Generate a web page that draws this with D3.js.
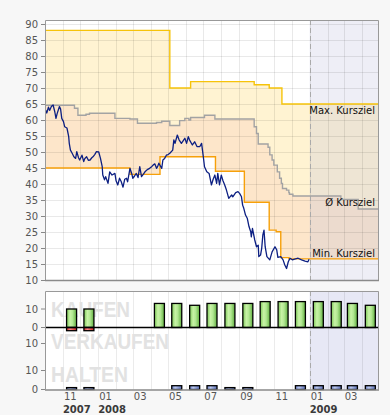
<!DOCTYPE html>
<html><head><meta charset="utf-8">
<script src="https://cdn.jsdelivr.net/npm/d3@7"></script>
<style>body{margin:0;background:#f7f7f7;} svg{display:block;font-family:"DejaVu Sans",Verdana,sans-serif;}</style>
</head><body><svg id="c" width="390" height="415"></svg>
<script>
const priceDates = ["2007-10-02","2007-10-04","2007-10-07","2007-10-09","2007-10-12","2007-10-15","2007-10-18","2007-10-20","2007-10-22","2007-10-26","2007-10-28","2007-10-30","2007-11-02","2007-11-04","2007-11-08","2007-11-11","2007-11-12","2007-11-14","2007-11-17","2007-11-20","2007-11-23","2007-11-25","2007-11-28","2007-11-30","2007-12-04","2007-12-07","2007-12-09","2007-12-12","2007-12-15","2007-12-18","2007-12-21","2007-12-23","2007-12-26","2007-12-29","2008-01-02","2008-01-05","2008-01-08","2008-01-09","2008-01-12","2008-01-14","2008-01-18","2008-01-21","2008-01-25","2008-01-30","2008-02-01","2008-02-04","2008-02-07","2008-02-10","2008-02-13","2008-02-16","2008-02-19","2008-02-21","2008-02-25","2008-02-28","2008-03-01","2008-03-04","2008-03-07","2008-03-10","2008-03-13","2008-03-16","2008-03-19","2008-03-22","2008-03-26","2008-03-30","2008-04-03","2008-04-05","2008-04-08","2008-04-11","2008-04-13","2008-04-15","2008-04-20","2008-04-22","2008-04-25","2008-04-28","2008-05-01","2008-05-04","2008-05-09","2008-05-11","2008-05-13","2008-05-17","2008-05-20","2008-05-24","2008-05-27","2008-05-30","2008-06-02","2008-06-05","2008-06-07","2008-06-12","2008-06-16","2008-06-20","2008-06-25","2008-06-28","2008-07-01","2008-07-03","2008-07-07","2008-07-11","2008-07-15","2008-07-18","2008-07-21","2008-07-24","2008-07-26","2008-07-29","2008-08-01","2008-08-04","2008-08-07","2008-08-10","2008-08-14","2008-08-19","2008-08-21","2008-08-26","2008-08-30","2008-09-02","2008-09-05","2008-09-07","2008-09-09","2008-09-12","2008-09-15","2008-09-18","2008-09-21","2008-09-22","2008-09-24","2008-09-28","2008-10-01","2008-10-04","2008-10-05","2008-10-08","2008-10-10","2008-10-12","2008-10-14","2008-10-16","2008-10-19","2008-10-24","2008-10-28","2008-11-02","2008-11-05","2008-11-07","2008-11-12","2008-11-16","2008-11-19","2008-11-22","2008-11-25","2008-11-28","2008-12-02","2008-12-06","2008-12-12","2008-12-18","2008-12-24","2008-12-29","2008-12-31"];
const priceValues = [63.1,62.2,64.0,63.0,64.2,64.7,62.5,60.5,62.0,64.2,63.4,60.5,59.5,57.9,57.5,54.8,52.7,50.6,49.6,48.5,48.0,50.1,48.2,47.5,49.0,47.0,48.0,48.5,47.4,47.5,48.2,48.5,49.2,50.1,50.0,48.0,45.4,42.8,41.3,42.3,40.2,43.8,42.8,43.3,41.0,39.7,41.8,40.7,39.0,41.5,41.8,40.7,44.9,43.3,41.8,42.5,43.3,42.0,45.4,42.3,43.0,43.8,44.5,44.9,45.5,45.9,46.3,44.9,45.5,46.5,44.9,47.5,48.0,49.0,49.2,49.6,50.6,53.8,52.7,55.3,53.8,52.7,53.5,54.3,52.7,54.8,53.8,52.2,53.2,51.7,51.7,52.7,48.5,45.4,43.8,43.3,39.7,41.5,42.8,40.2,43.3,39.7,42.8,41.0,39.7,38.1,35.5,36.6,36.0,37.3,37.6,37.0,36.0,33.4,32.4,30.3,29.3,26.7,25.1,23.5,26.1,22.5,20.4,20.9,17.3,17.8,19.9,24.1,25.6,20.4,17.3,16.3,18.8,20.4,19.4,17.1,17.3,16.3,14.7,13.6,15.7,16.8,16.3,16.5,16.8,16.3,15.9,15.7,16.5];

const maxDates = ["2007-10-01","2008-05-04","2008-06-09","2008-09-27","2008-10-23","2008-11-14"];
const maxValues = [88,70,72,71,70,65];
const avgDates = ["2007-10-01","2007-11-21","2007-11-27","2007-12-11","2007-12-17","2008-01-30","2008-02-25","2008-03-09","2008-04-11","2008-04-20","2008-05-04","2008-05-21","2008-05-30","2008-06-06","2008-06-09","2008-07-03","2008-07-21","2008-09-27","2008-10-01","2008-10-04","2008-10-21","2008-10-24","2008-10-28","2008-10-31","2008-11-06","2008-11-10","2008-11-13","2008-11-15","2008-11-22","2008-11-26","2008-11-27","2008-12-03","2009-02-24","2009-03-26"];
const avgValues = [64.6,63.65,61.5,61.8,62.1,60.5,60.3,59.0,59.2,59.6,58.3,59.8,60.5,60.0,60.8,61.5,60.3,57.9,55.8,52.5,51.5,49.1,47.5,45.9,43.8,41.8,40.2,38.6,38.1,37.3,36.8,36.25,35.2,32.2];
const minDates = ["2007-10-01","2008-02-25","2008-04-17","2008-07-22","2008-09-10","2008-10-23","2008-11-04","2008-11-12","2008-11-26"];
const minValues = [45,43,48.5,44,34.3,25.6,25.1,17,16.6];
const rangeStart = "2007-10-01", rangeEnd = "2009-05-01", todayDate = "2009-01-01";

const yTicks = [10,15,20,25,30,35,40,45,50,55,60,65,70,75,80,85,90];
const monthTickDates = ["2007-11-01","2008-01-01","2008-03-01","2008-05-01","2008-07-01","2008-09-01","2008-11-01","2009-01-01","2009-03-01"];
const monthTickLabels = ["11","01","03","05","07","09","11","01","03"];
const yearTickDates = ["2007-11-01","2008-01-01","2009-01-01"];
const yearTickLabels = ["2007","2008","2009"];

const ratingMonths = ["2007-11","2007-12","2008-01","2008-02","2008-03","2008-04","2008-05","2008-06","2008-07","2008-08","2008-09","2008-10","2008-11","2008-12","2009-01","2009-02","2009-03","2009-04"];
const kaufen    = [10,10,0,0,0,13,13,12,13,13,13,14,14,14,14,14,13,12];
const verkaufen = [2,2,0,0,0,0,0,0,0,0,0,0,0,0,0,0,0,0];
const halten    = [1,1,0,0,0,0,2,2,2,1,1,0,0,2,2,2,2,2];
const panelLabels = ["KAUFEN","VERKAUFEN","HALTEN"];

const P = d3.utcParse("%Y-%m-%d");
const PM = d3.utcParse("%Y-%m");
const svg = d3.select("#c");
const L = 45, R = 379, T = 20, B = 280;
const x = d3.scaleUtc().domain([P(rangeStart), P(rangeEnd)]).range([L, R]);
const y = d3.scaleLinear().domain([10, 91.25]).range([B, T]);
const xToday = x(P(todayDate));

const defs = svg.append("defs");
function grad(id, stops){
  const g = defs.append("linearGradient").attr("id", id).attr("x1","0").attr("x2","1").attr("y1","0").attr("y2","0");
  stops.forEach(s => g.append("stop").attr("offset", s[0]).attr("stop-color", s[1]));
}
grad("gG", [[0,"#7cc858"],[0.35,"#c8f3a6"],[0.6,"#b2e892"],[1,"#5fae3f"]]);
grad("gR", [[0,"#e03030"],[0.35,"#ff8a8a"],[1,"#d02020"]]);
grad("gB", [[0,"#6f83c8"],[0.35,"#bccaf2"],[1,"#5c70b8"]]);
defs.append("clipPath").attr("id","clipMain").append("rect").attr("x",L).attr("y",T).attr("width",R-L).attr("height",B-T);

// ---------- main plot ----------
svg.append("rect").attr("x",L).attr("y",T).attr("width",R-L).attr("height",B-T).attr("fill","#fff");
const gMain = svg.append("g").attr("clip-path","url(#clipMain)");

function stepVal(dates, vals, d){ let v = vals[0]; dates.forEach((s,i)=>{ if (P(s) <= d) v = vals[i]; }); return v; }
const breakSet = Array.from(new Set([...maxDates, ...avgDates, ...minDates, rangeEnd])).sort();
const bands = breakSet.map(s => { const d = P(s); return {date:d, max:stepVal(maxDates,maxValues,d), avg:stepVal(avgDates,avgValues,d), min:stepVal(minDates,minValues,d)}; });

gMain.append("path").datum(bands).attr("fill","#fff3d2")
  .attr("d", d3.area().x(d=>x(d.date)).y0(d=>y(d.avg)).y1(d=>y(d.max)).curve(d3.curveStepAfter));
gMain.append("path").datum(bands).attr("fill","#fde6ca")
  .attr("d", d3.area().x(d=>x(d.date)).y0(d=>y(d.min)).y1(d=>y(d.avg)).curve(d3.curveStepAfter));

// future overlay
gMain.append("rect").attr("x",xToday).attr("y",T).attr("width",R-xToday).attr("height",B-T).attr("fill","#bbbbdb").attr("opacity",0.25);

// grid
const months = d3.utcMonth.range(P(rangeStart), P(rangeEnd)).slice(1);
gMain.selectAll(".vg").data(months).enter().append("line")
  .attr("x1",d=>Math.round(x(d))+0.5).attr("x2",d=>Math.round(x(d))+0.5).attr("y1",T).attr("y2",B)
  .attr("stroke","rgba(0,0,0,0.085)");
gMain.selectAll(".hg").data(yTicks.slice(1)).enter().append("line")
  .attr("x1",L).attr("x2",R).attr("y1",d=>Math.round(y(d))+0.5).attr("y2",d=>Math.round(y(d))+0.5)
  .attr("stroke","rgba(0,0,0,0.085)");

// today dashed line
gMain.append("line").attr("x1",Math.round(xToday)+0.5).attr("x2",Math.round(xToday)+0.5).attr("y1",T).attr("y2",B)
  .attr("stroke","#aaa").attr("stroke-dasharray","5,3");

// target lines
function stepLine(dates, vals, color){
  const pts = dates.map((s,i)=>({date:P(s), v:vals[i]}));
  pts.push({date:P(rangeEnd), v:vals[vals.length-1]});
  gMain.append("path").datum(pts).attr("fill","none").attr("stroke",color).attr("stroke-width",1.4)
    .attr("d", d3.line().x(d=>x(d.date)).y(d=>y(d.v)).curve(d3.curveStepAfter));
}
stepLine(avgDates, avgValues, "#a3a3a3");
stepLine(maxDates, maxValues, "#f6c30a");
stepLine(minDates, minValues, "#f6a00a");

// price
const price = priceDates.map((s,i)=>({date:P(s), v:priceValues[i]}));
gMain.append("path").datum(price).attr("fill","none").attr("stroke","#0c1f82").attr("stroke-width",1.3)
  .attr("stroke-linejoin","round")
  .attr("d", d3.line().x(d=>x(d.date)).y(d=>y(d.v)));

// target labels
const lastMax = maxValues[maxValues.length-1], lastAvg = avgValues[avgValues.length-1], lastMin = minValues[minValues.length-1];
const lab = svg.append("g").attr("font-size",10).attr("fill","#111").attr("text-anchor","end");
lab.append("text").attr("x",375).attr("y",y(lastMax)+9.5).text("Max. Kursziel");
lab.append("text").attr("x",375).attr("y",y(lastAvg)-3).text("Ø Kursziel");
lab.append("text").attr("x",375).attr("y",y(lastMin)-1.5).text("Min. Kursziel");

// frame
svg.append("path").attr("d",`M${L+0.5},${B}V${T+0.5}H${R-0.5}V${B}`).attr("fill","none").attr("stroke","#999");
svg.append("line").attr("x1",L).attr("x2",R).attr("y1",B+0.5).attr("y2",B+0.5).attr("stroke","#8a8a8a").attr("stroke-width",1.5);

// y axis
const ya = svg.append("g").attr("transform",`translate(${L},0)`).call(d3.axisLeft(y).tickValues(yTicks).tickSize(4).tickPadding(3));
ya.select(".domain").remove();
ya.selectAll("line").attr("stroke","#888");
ya.selectAll("text").attr("font-size",10).attr("fill","#555").attr("font-family","DejaVu Sans");

// ---------- ratings panel ----------
const PT = 291, PB = 389.5, zeroY = 327.5;
const kS = d3.scaleLinear().domain([0,10]).range([zeroY, zeroY-18.5]);
const vS = d3.scaleLinear().domain([0,10]).range([zeroY, zeroY+16]);
const hS = d3.scaleLinear().domain([0,10]).range([PB, PB-19]);

svg.append("rect").attr("x",L).attr("y",PT).attr("width",R-L).attr("height",PB-PT).attr("fill","#fff");
svg.append("rect").attr("x",xToday).attr("y",PT).attr("width",R-xToday).attr("height",PB-PT).attr("fill","#e7e8f5");
svg.selectAll(".vg2").data(months).enter().append("line")
  .attr("x1",d=>Math.round(x(d))+0.5).attr("x2",d=>Math.round(x(d))+0.5).attr("y1",PT).attr("y2",PB)
  .attr("stroke","rgba(0,0,0,0.08)");
svg.append("line").attr("x1",Math.round(xToday)+0.5).attr("x2",Math.round(xToday)+0.5).attr("y1",PT).attr("y2",PB)
  .attr("stroke","#aaa").attr("stroke-dasharray","5,3");

// watermarks
const wm = svg.append("g").attr("fill","#e2e2e2").attr("font-family","Liberation Sans, Arial, sans-serif").attr("font-weight","bold").attr("font-size",22);
wm.append("text").attr("x",51).attr("y",316.5).attr("textLength",79).attr("lengthAdjust","spacingAndGlyphs").text(panelLabels[0]);
wm.append("text").attr("x",51).attr("y",349).attr("textLength",118).attr("lengthAdjust","spacingAndGlyphs").text(panelLabels[1]);
wm.append("text").attr("x",51).attr("y",382).attr("textLength",77).attr("lengthAdjust","spacingAndGlyphs").text(panelLabels[2]);

const rd = ratingMonths.map((m,i)=>({mid:d3.utcDay.offset(PM(m),15), k:kaufen[i], v:verkaufen[i], h:halten[i]}));
const bw = 10;
svg.selectAll(".kb").data(rd.filter(d=>d.k>0)).enter().append("rect")
  .attr("x",d=>x(d.mid)-bw/2).attr("width",bw).attr("y",d=>kS(d.k)).attr("height",d=>zeroY-kS(d.k))
  .attr("fill","url(#gG)").attr("stroke","#000").attr("stroke-width",1.3);
svg.selectAll(".vb").data(rd.filter(d=>d.v>0)).enter().append("rect")
  .attr("x",d=>x(d.mid)-bw/2).attr("width",bw).attr("y",zeroY).attr("height",d=>vS(d.v)-zeroY)
  .attr("fill","url(#gR)").attr("stroke","#000").attr("stroke-width",1.3);
svg.selectAll(".hb").data(rd.filter(d=>d.h>0)).enter().append("rect")
  .attr("x",d=>x(d.mid)-bw/2).attr("width",bw).attr("y",d=>hS(d.h)).attr("height",d=>PB-hS(d.h))
  .attr("fill","url(#gB)").attr("stroke","#000").attr("stroke-width",1.3);

svg.append("line").attr("x1",L).attr("x2",R).attr("y1",zeroY).attr("y2",zeroY).attr("stroke","#000").attr("stroke-width",1.5);

svg.append("path").attr("d",`M${L+0.5},${PB}V${PT+0.5}H${R-0.5}V${PB}`).attr("fill","none").attr("stroke","#999");
svg.append("line").attr("x1",L).attr("x2",R).attr("y1",PB+0.5).attr("y2",PB+0.5).attr("stroke","#8a8a8a").attr("stroke-width",1.5);

// panel y labels
const pl = [{y:kS(10),t:"10"},{y:kS(0),t:"0"},{y:vS(10),t:"10"},{y:hS(10),t:"10"},{y:hS(0),t:"0"}];
const plg = svg.append("g").attr("font-size",10).attr("fill","#555").attr("text-anchor","end");
pl.forEach(p=>{
  plg.append("text").attr("x",38).attr("y",p.y).attr("dy","0.35em").text(p.t);
  svg.append("line").attr("x1",L-4).attr("x2",L).attr("y1",p.y).attr("y2",p.y).attr("stroke","#888");
});

// x labels
const xl = svg.append("g").attr("font-size",10).attr("fill","#555");
monthTickDates.forEach((s,i)=> xl.append("text").attr("x",x(P(s))+1).attr("y",400).text(monthTickLabels[i]));
const yl = svg.append("g").attr("font-size",10).attr("font-weight","bold").attr("fill","#3a3a3a");
yearTickDates.forEach((s,i)=> yl.append("text").attr("x",x(P(s))).attr("y",412.5).text(yearTickLabels[i]));
</script></body></html>
